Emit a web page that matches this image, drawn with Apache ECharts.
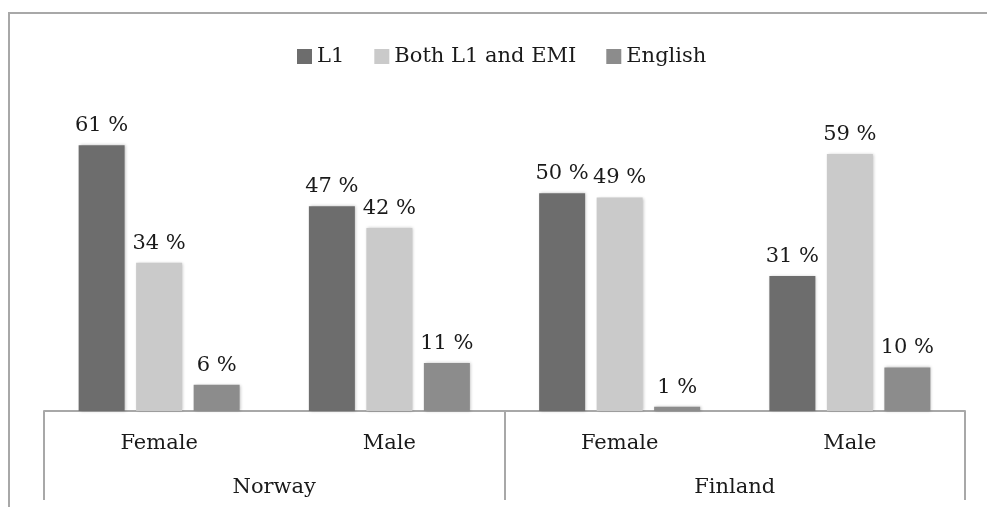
<!DOCTYPE html>
<html>
<head>
<meta charset="utf-8">
<script src="https://cdn.jsdelivr.net/npm/echarts@6/dist/echarts.min.js"></script>
<style>
html,body{margin:0;padding:0;background:#fff;}
#c{width:987px;height:507px;}
</style>
</head>
<body>
<div id="c"></div>
<script>
var subCategories = ['Female', 'Male', 'Female', 'Male'];
var countries = ['Norway', 'Finland'];
var seriesNames = ['L1', 'Both L1 and EMI', 'English'];
var l1Values = [61, 47, 50, 31];
var bothValues = [34, 42, 49, 59];
var englishValues = [6, 11, 1, 10];
var colors = ['#6d6d6d', '#cacaca', '#8c8c8c'];

var FONT = 'DejaVu Serif';
var chart = echarts.init(document.getElementById('c'), null, {renderer: 'canvas'});

function mk(name, data, color) {
  return {
    name: name,
    type: 'bar',
    data: data,
    barWidth: 46,
    barGap: '25%',
    itemStyle: {color: color, shadowBlur: 3, shadowColor: 'rgba(0,0,0,0.25)', shadowOffsetX: 1, shadowOffsetY: 0},
    label: {
      show: true, position: 'top', distance: 9,
      formatter: function (p) { return p.value + ' %'; },
      fontFamily: FONT, fontSize: 21, color: '#1a1a1a'
    }
  };
}

chart.setOption({
  animation: false,
  color: colors,
  textStyle: {fontFamily: FONT},
  graphic: [{
    type: 'rect', shape: {x: 9, y: 13, width: 1100, height: 700},
    style: {fill: 'none', stroke: '#a8a8a8', lineWidth: 2}, silent: true, z: -1
  }],
  legend: {
    data: seriesNames,
    left: 292, top: 41,
    itemWidth: 15, itemHeight: 15, itemGap: 30,
    icon: 'rect',
    textStyle: {fontFamily: FONT, fontSize: 21, color: '#1a1a1a'}
  },
  grid: {left: 44, right: 22, top: 106, bottom: 96, containLabel: false},
  xAxis: [{
    type: 'category', data: subCategories, position: 'bottom',
    axisLine: {show: true, lineStyle: {color: '#a8a8a8', width: 2}},
    axisTick: {show: false},
    axisLabel: {fontFamily: FONT, fontSize: 21, color: '#1a1a1a', margin: 22}
  }, {
    type: 'category', data: countries, position: 'bottom',
    axisLine: {show: false},
    axisTick: {show: true, length: 89, interval: 0, lineStyle: {color: '#a8a8a8', width: 2}},
    axisLabel: {fontFamily: FONT, fontSize: 21, color: '#1a1a1a', margin: 66}
  }],
  yAxis: {
    type: 'value', min: 0, max: 70, show: false,
    splitLine: {show: false}
  },
  series: [
    mk(seriesNames[0], l1Values, colors[0]),
    mk(seriesNames[1], bothValues, colors[1]),
    mk(seriesNames[2], englishValues, colors[2])
  ]
});
</script>
</body>
</html>
